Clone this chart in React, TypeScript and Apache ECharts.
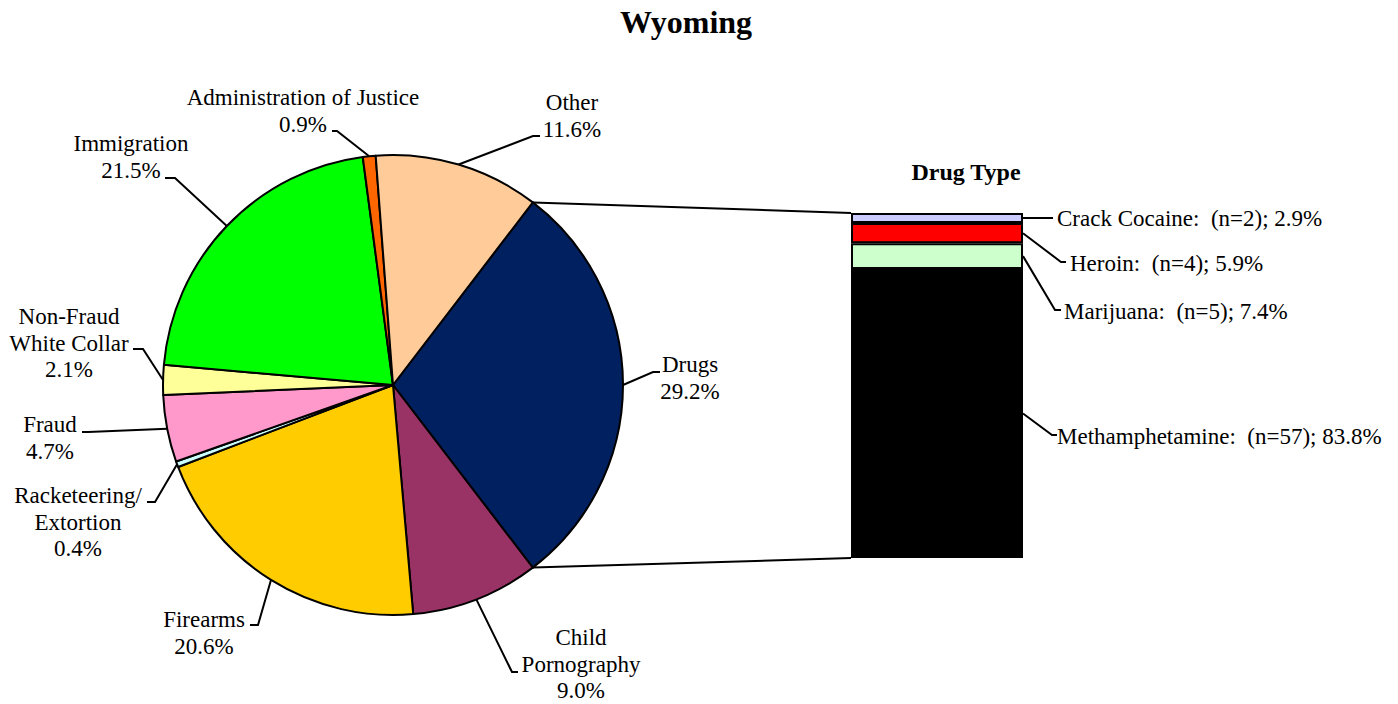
import React, { useEffect, useRef } from 'react';
import * as echarts from 'echarts';

// ---------- data ----------
const offenseNames = [
  'Drugs',
  'Child\nPornography',
  'Firearms',
  'Racketeering/\nExtortion',
  'Fraud',
  'Non-Fraud\nWhite Collar',
  'Immigration',
  'Administration of Justice',
  'Other',
];
const offensePercents = [29.2, 9.0, 20.6, 0.4, 4.7, 2.1, 21.5, 0.9, 11.6];
const offenseColors = ['#002060', '#993366', '#FFCC00', '#CCFFFF', '#FF99CC', '#FFFF99', '#00FF00', '#FF6600', '#FFCC99'];

const drugNames = ['Crack Cocaine', 'Heroin', 'Marijuana', 'Methamphetamine'];
const drugCounts = [2, 4, 5, 57];
const drugPercents = [2.9, 5.9, 7.4, 83.8];
const drugColors = ['#CCCCFF', '#FF0000', '#CCFFCC', '#000000'];

const chartTitle = 'Wyoming';
const barTitle = 'Drug Type';

// ---------- layout ----------
const W = 1398;
const H = 704;
const FONT = "'Liberation Serif', 'Times New Roman', serif";
const PIE_CX = 393;
const PIE_CY = 385;
const PIE_R = 230;
const BAR_LEFT = 851;
const BAR_TOP = 213;
const BAR_W = 172;
const BAR_H = 345;

// label block centres and leader-line bends for the pie
const pieLabelLayout = [
  { x: 690, y: 378, elbow: [653, 372], end: [660, 372] },
  { x: 581, y: 664, elbow: [512, 672], end: [518, 672] },
  { x: 204, y: 633, elbow: [258, 625], end: [250, 625] },
  { x: 78, y: 522, elbow: [155, 502], end: [147, 502] },
  { x: 50, y: 438, elbow: [88, 432], end: [82, 432] },
  { x: 69, y: 343, elbow: [143, 349], end: [133, 349] },
  { x: 131, y: 157, elbow: [175, 178], end: [165, 178] },
  { x: 303, y: 111, elbow: [337, 131], end: [332, 131] },
  { x: 572, y: 116, elbow: [533, 136], end: [540, 136] },
];

// label anchors (left, middle) and leader bends for the bar
const barLabelLayout = [
  { x: 1057, y: 218, elbow: [1050, 218], end: [1053, 218] },
  { x: 1070, y: 263, elbow: [1061, 262], end: [1066, 262] },
  { x: 1064, y: 311, elbow: [1055, 310], end: [1061, 310] },
  { x: 1057, y: 436, elbow: [1052, 435], end: [1057, 435] },
];

const total = offensePercents.reduce((a, b) => a + b, 0);
const START_ANGLE = (offensePercents[0] / total) * 180; // drugs centred on the right

function edgePoint(angleDeg: number): number[] {
  const a = (angleDeg * Math.PI) / 180;
  return [PIE_CX + PIE_R * Math.cos(a), PIE_CY - PIE_R * Math.sin(a)];
}

function midAngle(i: number): number {
  let cum = 0;
  for (let k = 0; k < i; k++) cum += offensePercents[k];
  return START_ANGLE - ((cum + offensePercents[i] / 2) / total) * 360;
}

export default function App() {
  const ref = useRef<HTMLDivElement>(null);

  useEffect(() => {
    document.body.style.margin = '0';
    if (!ref.current) return;
    const chart = echarts.init(ref.current, null, { renderer: 'svg' });

    const pieData = offenseNames.map((name, i) => ({
      name,
      value: offensePercents[i],
      itemStyle: { color: offenseColors[i] },
    }));

    const barSeries = drugNames.map((name, i) => ({
      type: 'bar',
      name,
      stack: 'drug',
      barWidth: '100%',
      data: [drugPercents[i]],
      itemStyle: { color: drugColors[i], borderColor: '#000', borderWidth: 2 },
      label: {
        show: true,
        position: 'right',
        formatter: () => `${name}:  (n=${drugCounts[i]}); ${drugPercents[i].toFixed(1)}%`,
        fontFamily: FONT,
        fontSize: 23,
        color: '#000',
      },
      labelLayout: () => ({
        x: barLabelLayout[i].x,
        y: barLabelLayout[i].y,
        align: 'left',
        verticalAlign: 'middle',
      }),
      emphasis: { disabled: true },
      silent: true,
    }));

    const dAngle = (offensePercents[0] / total) * 180;
    const pTop = edgePoint(dAngle);
    const pBot = edgePoint(-dAngle);

    const option: any = {
      animation: false,
      backgroundColor: '#fff',
      grid: { left: BAR_LEFT, top: BAR_TOP, width: BAR_W, height: BAR_H },
      xAxis: { type: 'category', data: [barTitle], show: false },
      yAxis: { type: 'value', min: 0, max: 100, inverse: true, show: false },
      series: [
        {
          type: 'pie',
          center: [PIE_CX, PIE_CY],
          radius: PIE_R,
          startAngle: START_ANGLE,
          clockwise: true,
          avoidLabelOverlap: false,
          minAngle: 0,
          data: pieData,
          itemStyle: { borderColor: '#000', borderWidth: 2 },
          label: {
            show: true,
            position: 'outside',
            formatter: (p: any) => `${p.name}\n${p.value.toFixed(1)}%`,
            fontFamily: FONT,
            fontSize: 23,
            lineHeight: 26.5,
            color: '#000',
            align: 'center',
          },
          labelLine: { show: true, lineStyle: { color: '#000', width: 2 } },
          labelLayout: (params: any) => {
            const i = params.dataIndex;
            const p = pieLabelLayout[i];
            return {
              x: p.x,
              y: p.y,
              align: 'center',
              verticalAlign: 'middle',
              labelLinePoints: [edgePoint(midAngle(i)), p.elbow, p.end],
            };
          },
          emphasis: { disabled: true },
          silent: true,
        },
        ...barSeries,
      ],
      graphic: [
        {
          type: 'text',
          x: 686,
          y: 22,
          style: {
            text: chartTitle,
            fontFamily: FONT,
            fontSize: 32,
            fontWeight: 'bold',
            fill: '#000',
            textAlign: 'center',
            textVerticalAlign: 'middle',
          },
        },
        {
          type: 'text',
          x: 966,
          y: 172,
          style: {
            text: barTitle,
            fontFamily: FONT,
            fontSize: 24,
            fontWeight: 'bold',
            fill: '#000',
            textAlign: 'center',
            textVerticalAlign: 'middle',
          },
        },
        {
          type: 'line',
          shape: { x1: pTop[0], y1: pTop[1], x2: BAR_LEFT, y2: BAR_TOP },
          style: { stroke: '#000', lineWidth: 2 },
        },
        {
          type: 'line',
          shape: { x1: pBot[0], y1: pBot[1], x2: BAR_LEFT, y2: BAR_TOP + BAR_H },
          style: { stroke: '#000', lineWidth: 2 },
        },
      ],
    };

    chart.setOption(option);

    // leader lines for the bar labels, started at each segment's middle
    const barRight = BAR_LEFT + BAR_W;
    let cum = 0;
    const leaders = drugPercents.map((v, i) => {
      const mid = cum + v / 2;
      cum += v;
      const y = chart.convertToPixel({ yAxisIndex: 0 } as any, mid) as unknown as number;
      const b = barLabelLayout[i];
      return {
        type: 'polyline',
        shape: { points: [[barRight, y], b.elbow, b.end] },
        style: { stroke: '#000', lineWidth: 2, fill: 'none' },
      };
    });
    chart.setOption({ graphic: [...option.graphic, ...leaders] });

    return () => chart.dispose();
  }, []);

  return <div ref={ref} style={{ width: W, height: H }} />;
}
